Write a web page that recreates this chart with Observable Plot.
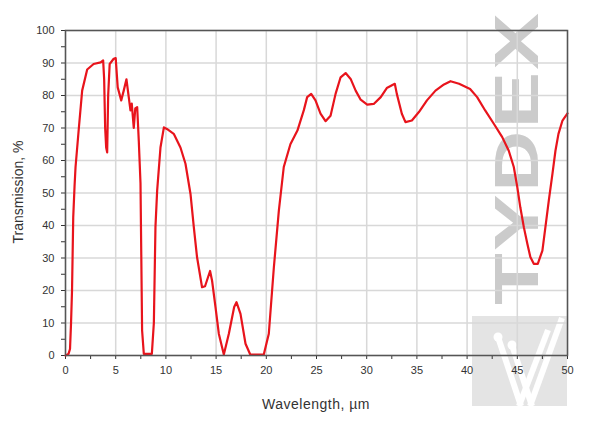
<!DOCTYPE html>
<html>
<head>
<meta charset="utf-8">
<script src="https://cdn.jsdelivr.net/npm/d3@7"></script>
<script src="https://cdn.jsdelivr.net/npm/@observablehq/plot@0.6"></script>
<style>
  html, body { margin: 0; padding: 0; background: #fff; }
  #chart svg { display: block; font-family: "Liberation Sans", Arial, sans-serif; }
</style>
</head>
<body>
<div id="chart"></div>
<script>
const wavelength = [0,0.3,0.45,0.55,0.65,0.77,0.9,1.0,1.33,1.66,2.16,2.8,3.5,3.75,3.85,3.95,4.05,4.15,4.25,4.4,4.8,5.0,5.2,5.55,5.8,6.07,6.3,6.47,6.6,6.8,6.95,7.14,7.3,7.47,7.63,7.8,8.6,8.8,8.96,9.13,9.46,9.8,10.1,10.78,11.45,11.95,12.45,12.78,13.1,13.6,13.9,14.4,14.6,14.94,15.27,15.77,16.27,16.8,17.03,17.43,17.93,18.4,19.75,20.25,20.75,21.25,21.74,22.4,23.1,23.74,24.07,24.47,24.9,25.4,25.9,26.4,26.9,27.4,27.9,28.4,28.9,29.4,30.05,30.7,31.4,32.0,32.8,33.0,33.5,33.86,34.5,35.2,36.0,36.85,37.7,38.35,39.2,40.3,41.0,41.8,42.66,43.5,44.15,44.65,45,45.3,45.65,46.0,46.3,46.64,47.04,47.5,47.8,48.14,48.5,48.8,49.1,49.5,50];
const transmission = [0,0.5,2,9.8,20,42.5,52,58,70,81.5,88,89.7,90.2,90.8,85,70,64,62.5,80,89.7,91.3,91.5,82.5,78.5,81.5,85,79.5,75.4,77.5,70,76,76.4,66,53,7.7,0.5,0.5,10,39.5,50.8,64,70.2,69.7,68.2,64,59,49.7,39.5,30.3,21,21.3,26,23,14.9,6.7,0.3,6.7,14.9,16.4,12.8,3.6,0.3,0.3,6.7,27,44.6,58,65,69.2,75.5,79.5,80.5,78.5,74.4,72.1,73.8,80.5,85.6,86.9,85.1,81.5,78.7,77.2,77.4,79.5,82.3,83.6,80.5,74.4,71.8,72.3,74.9,78.5,81.5,83.4,84.4,83.6,82,79.5,75.4,71.3,67.2,63,58,51.8,45.6,39.5,34.4,30.3,28.2,28.2,32.3,39.5,47.7,55.9,63,68.2,72.3,74.5];
const xTicks = d3.range(0, 50.1, 2.5);
const yTicks = d3.range(0, 100.1, 5);
const xGrid = d3.range(0, 50.1, 5);
const yGrid = d3.range(0, 100.1, 10);
const xLabel = "Wavelength, \u00b5m";
const yLabel = "Transmission, %";
const watermark = "TYDEX";

const data = wavelength.map((w, i) => ({w, t: transmission[i]}));

const chart = Plot.plot({
  width: 600,
  height: 421,
  marginLeft: 65,
  marginRight: 33,
  marginTop: 30,
  marginBottom: 66,
  style: {fontSize: "11px", fontFamily: "Liberation Sans, Arial, sans-serif", color: "#333", background: "#fff"},
  x: {domain: [0, 50]},
  y: {domain: [0, 100]},
  marks: [
    Plot.gridX(xGrid, {stroke: "#d8d8d8", strokeOpacity: 1, strokeWidth: 1.5}),
    Plot.gridY(yGrid, {stroke: "#d8d8d8", strokeOpacity: 1, strokeWidth: 1.5}),
    Plot.axisX({ticks: xTicks, tickSize: 4, tickPadding: 7, tickFormat: d => d % 5 === 0 ? String(d) : "", label: null, stroke: "#333"}),
    Plot.axisY({ticks: yTicks, tickSize: 4, tickPadding: 7, tickFormat: d => d % 10 === 0 ? String(d) : "", label: null, stroke: "#333"}),
    Plot.line(data, {x: "w", y: "t", stroke: "#e8141c", strokeWidth: 2.2}),
    Plot.frame({stroke: "#555", strokeWidth: 1.5})
  ]
});

document.getElementById("chart").appendChild(chart);

const svg = d3.select(chart);
// watermark behind everything
const firstG = chart.querySelector('g');
const wm = document.createElementNS("http://www.w3.org/2000/svg", "g");
chart.insertBefore(wm, firstG);
const wmSel = d3.select(wm);
wmSel.append("rect")
  .attr("x", 472).attr("y", 316).attr("width", 95).attr("height", 90)
  .attr("fill", "#e4e4e4");
const wLines = [
  [[498,337],[521,406]],
  [[512,345],[532,406]],
  [[562,318],[530,406]],
  [[548,330],[519,406]]
];
wLines.forEach(p => wmSel.append("line")
  .attr("x1", p[0][0]).attr("y1", p[0][1]).attr("x2", p[1][0]).attr("y2", p[1][1])
  .attr("stroke", "#fff").attr("stroke-width", 6));
wmSel.append("circle").attr("cx", 498).attr("cy", 337).attr("r", 4.5).attr("fill", "#fff");
wmSel.append("circle").attr("cx", 512).attr("cy", 345).attr("r", 4.5).attr("fill", "#fff");
wmSel.append("text")
  .attr("transform", "translate(538,159) rotate(-90) scale(1,0.74)")
  .attr("text-anchor", "middle")
  .attr("font-family", "Liberation Sans, Arial, sans-serif")
  .attr("font-weight", "bold")
  .attr("font-size", 85)
  .attr("textLength", 292)
  .attr("lengthAdjust", "spacing")
  .attr("fill", "#cbcbcb")
  .text(watermark);

// axis labels
svg.append("text")
  .attr("x", 316).attr("y", 409)
  .attr("text-anchor", "middle")
  .attr("font-size", 14)
  .attr("letter-spacing", "0.5px")
  .attr("fill", "#333")
  .text(xLabel);
svg.append("text")
  .attr("transform", "translate(23,192) rotate(-90)")
  .attr("text-anchor", "middle")
  .attr("font-size", 14)
  .attr("fill", "#333")
  .text(yLabel);
</script>
</body>
</html>
